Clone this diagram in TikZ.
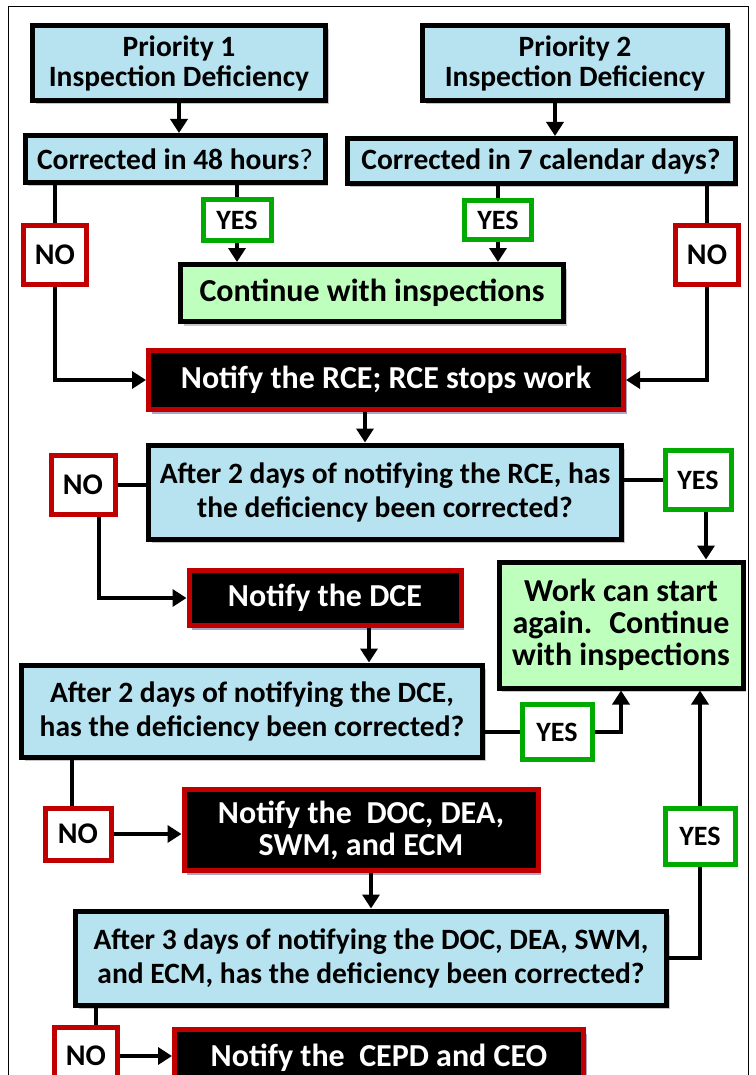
\documentclass[tikz,border=0pt]{standalone}
\usepackage{fontspec}
\setmainfont{Carlito}
\usetikzlibrary{arrows.meta,shadows}
\definecolor{qblue}{RGB}{183,227,240}
\definecolor{okgreen}{RGB}{190,255,190}
\definecolor{nored}{RGB}{192,0,0}
\definecolor{yesgreen}{RGB}{0,170,0}

\begin{document}
\begin{tikzpicture}[x=1pt,y=-1pt,
    every node/.style={align=center, inner sep=0pt},
    toptext/.style={font=\bfseries\fontsize{29.5}{30}\selectfont},
    bigtext/.style={font=\bfseries\fontsize{32}{32}\selectfont},
    qtext/.style={font=\bfseries\fontsize{29.5}{34}\selectfont},
    graysh/.style={drop shadow={shadow xshift=3pt,shadow yshift=-4pt,fill=black!22,opacity=1}},
    bluesh/.style={drop shadow={shadow xshift=3pt,shadow yshift=-4pt,fill=blue!25!gray!55,opacity=1}},
    box/.style={draw=black, line width=5pt, fill=qblue, graysh},
    okbox/.style={draw=black, line width=5pt, fill=okgreen, graysh},
    alert/.style={draw=nored, line width=5pt, fill=black, text=white, bluesh},
    nolabel/.style={draw=nored, line width=5pt, fill=white,
      font=\bfseries\fontsize{30}{30}\selectfont},
    yeslabel/.style={draw=yesgreen, line width=5pt, fill=white,
      font=\bfseries\fontsize{28}{28}\selectfont},
    link/.style={line width=3.8pt},
    arr/.style={link, -{Triangle[length=14pt,width=17pt]}}]
    \useasboundingbox (0,0) rectangle (755,1075);
    \clip (0,0) rectangle (755,1075);
    \fill[white] (0,0) rectangle (755,1075);
    \draw[line width=1pt] (8,7) rectangle (748,1095);

    % top row
    \node[box, toptext, minimum width=293, minimum height=75] (p1) at (179,63)
        {Priority 1\\Inspection Deficiency};
    \node[box, toptext, minimum width=305, minimum height=75] (p2) at (575,63)
        {Priority 2\\Inspection Deficiency};
    \node[box, toptext, minimum width=300, minimum height=47] (c48) at (175,159)
        {Corrected in 48 hours{\mdseries ?}};
    \node[box, toptext, minimum width=388, minimum height=45] (c7) at (541,161)
        {Corrected in 7 calendar days?};
    \node[yeslabel, minimum width=68, minimum height=41] (yes1) at (237,220) {YES};
    \node[yeslabel, minimum width=67, minimum height=39] (yes2) at (498,220) {YES};
    \node[nolabel, minimum width=63, minimum height=58] (no1) at (55,255) {NO};
    \node[nolabel, minimum width=63, minimum height=58] (no2) at (707,255) {NO};
    \node[okbox, bigtext, minimum width=383, minimum height=57] (cont) at (372,293)
        {Continue with inspections};

    % RCE step
    \node[alert, bigtext, minimum width=475, minimum height=59] (rce) at (386,380)
        {Notify the RCE; RCE stops work};
    \node[box, qtext, minimum width=473, minimum height=94] (q1) at (385,492)
        {After 2 days of notifying the RCE, has\\the deficiency been corrected?};
    \node[nolabel, minimum width=64, minimum height=59] (no3) at (83,485) {NO};
    \node[yeslabel, minimum width=66, minimum height=59] (yes3) at (698,480) {YES};
    \node[okbox, bigtext, minimum width=244, minimum height=126] (work) at (621,625)
        {Work can start\\again.~ Continue\\with inspections};

    % DCE step
    \node[alert, bigtext, minimum width=272, minimum height=55] (dce) at (325,598)
        {Notify the DCE};
    \node[box, qtext, minimum width=461, minimum height=92] (q2) at (252,711)
        {After 2 days of notifying the DCE,\\has the deficiency been corrected?};
    \node[yeslabel, minimum width=70, minimum height=55] (yes4) at (557,732) {YES};
    \node[nolabel, minimum width=66, minimum height=52] (no4) at (78,834) {NO};

    % DOC step
    \node[alert, bigtext, minimum width=354, minimum height=81] (doc) at (361,830)
        {Notify the~ DOC, DEA,\\SWM, and ECM};
    \node[yeslabel, minimum width=70, minimum height=56] (yes5) at (700,836) {YES};
    \node[box, qtext, minimum width=591, minimum height=94] (q3) at (371,958)
        {After 3 days of notifying the DOC, DEA, SWM,\\and ECM, has the deficiency been corrected?};
    \node[nolabel, minimum width=63, minimum height=58] (no5) at (86,1056) {NO};
    \node[alert, bigtext, minimum width=409, minimum height=57] (cepd) at (379,1058)
        {Notify the~ CEPD and CEO};

    % connectors
    \draw[arr] (p1.south) -- (p1.south |- c48.north);
    \draw[arr] ([xshift=-20]p2.south) -- ([xshift=-20]p2.south |- c7.north);
    \draw[link] (c48.south -| yes1) -- (yes1);
    \draw[arr] (yes1) -- (yes1 |- cont.north);
    \draw[link] (c7.south -| yes2) -- (yes2);
    \draw[arr] (yes2) -- (yes2 |- cont.north);
    \draw[link] (c48.south -| no1) -- (no1);
    \draw[arr] (no1) |- (rce);
    \draw[link] (c7.south -| no2) -- (no2);
    \draw[arr] (no2) |- (rce);
    \draw[arr] ([xshift=-21]rce.south) -- ([xshift=-21]rce.south |- q1.north);
    \draw[link] (q1.west |- no3) -- (no3);
    \draw[arr] ([xshift=16]no3.south) |- (dce);
    \draw[link] (q1.east |- yes3) -- (yes3);
    \draw[arr] ([xshift=8]yes3.south) -- ([xshift=8]yes3.south |- work.north);
    \draw[arr] ([xshift=44]dce.south) -- ([xshift=44]dce.south |- q2.north);
    \draw[link] (q2.east |- yes4) -- (yes4);
    \draw[arr] (yes4) -| (work);
    \draw[link] ([xshift=-6]no4.north |- q2.south) -- ([xshift=-6]no4.north);
    \draw[arr] (no4) -- (no4 -| doc.west);
    \draw[arr] (doc.south -| q3.north) -- (q3);
    \draw[link] (q3) -| (yes5);
    \draw[arr] (yes5) -- (yes5 |- work.south);
    \draw[link] ([xshift=10]no5.north |- q3.south) -- ([xshift=10]no5.north);
    \draw[arr] (no5) -- (no5 -| cepd.west);
\end{tikzpicture}
\end{document}
